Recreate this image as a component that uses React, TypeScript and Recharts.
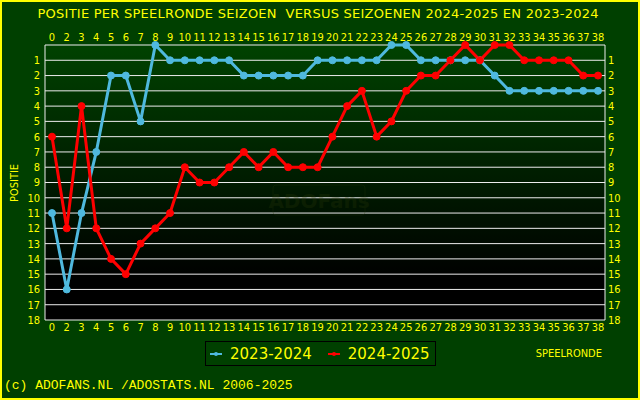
import React from "react";
import {
  CartesianGrid,
  Line,
  LineChart,
  XAxis,
  YAxis,
} from "recharts";

const YELLOW = "#ffff00";
const BLUE = "#4fb9de";
const RED = "#ff0000";
const GRID = "#ececec";
const BG = "#004000";

// speelronde labels as printed on the axis (there is no "1")
const rounds = [
  "0", "2", "3", "4", "5", "6", "7", "8", "9", "10",
  "11", "12", "13", "14", "15", "16", "17", "18", "19", "20",
  "21", "22", "23", "24", "25", "26", "27", "28", "29", "30",
  "31", "32", "33", "34", "35", "36", "37", "38",
];

const season2324 = [
  11, 16, 11, 7, 2, 2, 5, 0, 1, 1,
  1, 1, 1, 2, 2, 2, 2, 2, 1, 1,
  1, 1, 1, 0, 0, 1, 1, 1, 1, 1,
  2, 3, 3, 3, 3, 3, 3, 3,
];

const season2425 = [
  6, 12, 4, 12, 14, 15, 13, 12, 11, 8,
  9, 9, 8, 7, 8, 7, 8, 8, 8, 6,
  4, 3, 6, 5, 3, 2, 2, 1, 0, 1,
  0, 0, 1, 1, 1, 1, 2, 2,
];

const positionTicks = [0, 1, 2, 3, 4, 5, 6, 7, 8, 9, 10, 11, 12, 13, 14, 15, 16, 17, 18];

const data = rounds.map((round, i) => ({
  round,
  s2324: season2324[i],
  s2425: season2425[i],
}));

const tickFont = {
  fill: YELLOW,
  fontSize: 11,
  fontFamily: "'DejaVu Sans Condensed', 'Liberation Sans Narrow', 'DejaVu Sans', sans-serif",
};

const hideZero = (v: number) => (v === 0 ? "" : String(v));

function LegendMark({ color }: { color: string }) {
  return (
    <svg width={12} height={6} style={{ marginRight: 8 }}>
      <line x1={0} y1={3} x2={12} y2={3} stroke={color} strokeWidth={2} />
      <circle cx={6} cy={3} r={2} fill={color} />
    </svg>
  );
}

export default function App() {
  return (
    <div
      style={{
        position: "fixed",
        left: 0,
        top: 0,
        width: 640,
        height: 400,
        background: BG,
        boxShadow: `inset 0 0 0 2px ${YELLOW}`,
        overflow: "hidden",
      }}
    >
      <LineChart
        width={640}
        height={400}
        data={data}
        margin={{ top: 30, right: 5, bottom: 65, left: 15 }}
      >
        <defs>
          <linearGradient id="plotBg" x1="0" y1="0" x2="0" y2="1">
            <stop offset="0%" stopColor="#004200" />
            <stop offset="85%" stopColor="#000000" />
            <stop offset="100%" stopColor="#000000" />
          </linearGradient>
        </defs>
        <CartesianGrid vertical={false} stroke={GRID} fill="url(#plotBg)" fillOpacity={1} />
        <XAxis
          dataKey="round"
          interval={0}
          axisLine={false}
          tickLine={false}
          tickSize={0}
          tickMargin={3}
          height={15}
          padding={{ left: 7, right: 7 }}
          tick={tickFont}
        />
        <XAxis
          xAxisId="top"
          dataKey="round"
          orientation="top"
          interval={0}
          axisLine={false}
          tickLine={false}
          tickSize={0}
          tickMargin={4}
          height={15}
          padding={{ left: 7, right: 7 }}
          tick={tickFont}
        />
        <YAxis
          reversed
          domain={[0, 18]}
          ticks={positionTicks}
          interval={0}
          width={30}
          tickLine={false}
          tickSize={0}
          tickMargin={5}
          axisLine={{ stroke: GRID }}
          tickFormatter={hideZero}
          tick={tickFont}
        />
        <YAxis
          yAxisId="right"
          orientation="right"
          reversed
          domain={[0, 18]}
          ticks={positionTicks}
          interval={0}
          width={30}
          tickLine={false}
          tickSize={0}
          tickMargin={3}
          axisLine={{ stroke: GRID }}
          tickFormatter={hideZero}
          tick={tickFont}
        />
        {/* invisible copy so the right axis has a series and prints its ticks */}
        <Line
          yAxisId="right"
          dataKey="s2324"
          stroke="none"
          dot={false}
          activeDot={false}
          legendType="none"
          isAnimationActive={false}
        />
        <Line
          dataKey="s2324"
          name="2023-2024"
          stroke={BLUE}
          strokeWidth={3}
          dot={{ r: 3.5, fill: BLUE, stroke: BLUE, strokeWidth: 1 }}
          isAnimationActive={false}
        />
        <Line
          dataKey="s2425"
          name="2024-2025"
          stroke={RED}
          strokeWidth={3}
          dot={{ r: 3.5, fill: RED, stroke: RED, strokeWidth: 1 }}
          isAnimationActive={false}
        />
      </LineChart>

      <svg
        width={640}
        height={400}
        style={{ position: "absolute", left: 0, top: 0, pointerEvents: "none" }}
      >
        <text
          x={318}
          y={18}
          textAnchor="middle"
          fill={YELLOW}
          fontSize={13}
          fontFamily="'DejaVu Sans', sans-serif"
          textLength={561}
          lengthAdjust="spacing"
          style={{ whiteSpace: "pre" }}
        >
          POSITIE PER SPEELRONDE SEIZOEN  VERSUS SEIZOENEN 2024-2025 EN 2023-2024
        </text>
        <text
          x={18}
          y={183}
          transform="rotate(-90 18 183)"
          textAnchor="middle"
          fill={YELLOW}
          fontSize={11}
          fontFamily={tickFont.fontFamily}
        >
          POSITIE
        </text>
        <text
          x={602}
          y={357}
          textAnchor="end"
          fill={YELLOW}
          fontSize={11}
          fontFamily={tickFont.fontFamily}
        >
          SPEELRONDE
        </text>
        <g opacity={0.25}>
          <rect x={273} y={185} width={92} height={30} rx={3} fill="none" stroke="#2a3a08" strokeWidth={1} />
          <text
            x={319}
            y={208}
            textAnchor="middle"
            fill="#2e3c08"
            fontSize={20}
            fontWeight="bold"
            fontFamily="'DejaVu Sans', sans-serif"
          >
            ADOFans
          </text>
        </g>
        <text
          x={4}
          y={389}
          fill={YELLOW}
          fontSize={13}
          fontFamily="'Liberation Mono', 'DejaVu Sans Mono', monospace"
        >
          (c) ADOFANS.NL /ADOSTATS.NL 2006-2025
        </text>
      </svg>

      <div
        style={{
          position: "absolute",
          left: 205,
          top: 341,
          width: 231,
          height: 25,
          boxSizing: "border-box",
          border: "1px solid #000000",
          display: "flex",
          alignItems: "center",
          paddingLeft: 4,
          color: YELLOW,
          fontFamily: "'DejaVu Sans', sans-serif",
          fontSize: 15,
        }}
      >
        <LegendMark color={BLUE} />
        <span style={{ marginRight: 16 }}>2023-2024</span>
        <LegendMark color={RED} />
        <span>2024-2025</span>
      </div>
    </div>
  );
}
